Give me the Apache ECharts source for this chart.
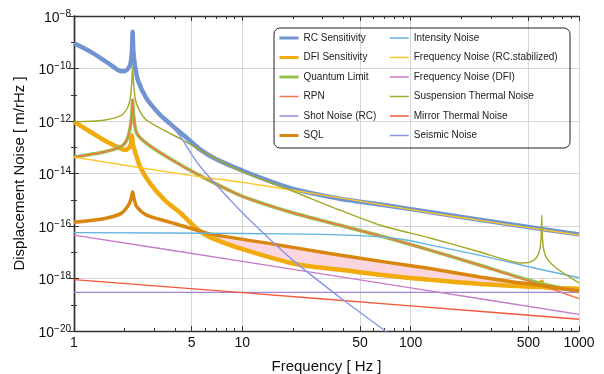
<!DOCTYPE html>
<html>
<head>
<meta charset="utf-8">
<title>Displacement noise budget</title>
<script src="https://cdn.jsdelivr.net/npm/echarts@6/dist/echarts.min.js"></script>
<style>
  html, body { margin: 0; padding: 0; background: #fff; }
  #chart { width: 604px; height: 374px; }
</style>
</head>
<body>
<div id="chart"></div>
<script>
// every curve: [frequency in Hz, displacement noise in m/rHz]
const rcSensitivity = [
  [1, 9.1e-10], [1.25, 4.4e-10], [1.5, 2.1e-10], [1.7, 1.2e-10], [1.9, 7.9e-11],
  [2.0, 7.9e-11], [2.1, 1.0e-10], [2.17, 1.6e-10], [2.21, 5.0e-10], [2.23, 2.5e-9],
  [2.25, 5.0e-10], [2.3, 1.35e-10], [2.4, 3.5e-11], [2.7, 7.1e-12], [3.2, 1.9e-12],
  [3.7, 8.1e-13], [4.7, 2.2e-13], [5.6, 8.3e-14], [7, 3.5e-14], [10, 1.3e-14],
  [14, 5.6e-15], [20, 2.6e-15], [38, 1.1e-15], [66, 6.6e-16], [100, 4.4e-16],
  [200, 2.2e-16], [500, 9.1e-17], [1000, 4.8e-17]
];
const dfiSensitivity = [
  [1, 9.3e-13], [1.25, 3.9e-13], [1.5, 1.9e-13], [1.8, 1.05e-13], [2.0, 7.9e-14],
  [2.12, 9.5e-14], [2.18, 1.4e-13], [2.21, 2.8e-13], [2.24, 1.26e-13], [2.3, 7.1e-14],
  [2.47, 1.8e-14], [2.83, 4.2e-15], [3.47, 9.5e-16], [4.27, 3.2e-16], [5.36, 7.9e-17],
  [6.46, 3.7e-17], [10.6, 1.17e-17], [21, 3.5e-18], [42, 2.0e-18], [66, 1.38e-18],
  [130, 8.9e-19], [258, 6.2e-19], [510, 4.9e-19], [585, 4.7e-19], [597, 6.0e-19],
  [601, 7.6e-19], [605, 6.0e-19], [618, 4.6e-19], [1000, 4.1e-19]
];
const quantumLimit = [
  [1, 4.2e-14], [1.5, 6.6e-14], [1.9, 1.05e-13], [2.06, 1.9e-13], [2.15, 5.0e-13],
  [2.2, 1.6e-12], [2.23, 6.3e-12], [2.26, 1.6e-12], [2.36, 3.4e-13], [2.7, 1.4e-13],
  [3.7, 3.7e-14], [5.6, 8.3e-15], [9.7, 1.48e-15], [19, 3.5e-16], [38, 1.07e-16],
  [70, 3.8e-17], [130, 1.2e-17], [258, 3.2e-18], [510, 8.5e-19], [706, 5.0e-19],
  [1000, 3.2e-19]
];
const rpn = [
  [1, 4.2e-14], [1.5, 6.6e-14], [1.9, 1.05e-13], [2.06, 1.9e-13], [2.15, 5.0e-13],
  [2.2, 1.6e-12], [2.23, 6.3e-12], [2.26, 1.6e-12], [2.36, 3.4e-13], [2.7, 1.4e-13],
  [3.7, 3.7e-14], [5.6, 8.3e-15], [9.7, 1.48e-15], [19, 3.5e-16], [38, 1.07e-16],
  [70, 3.8e-17], [130, 1.2e-17], [258, 3.2e-18], [510, 7.8e-19], [706, 3.8e-19],
  [1000, 1.7e-19]
];
const shotNoiseRC = [[1, 2.95e-19], [1000, 2.95e-19]];
const sqlLimit = [
  [1, 1.4e-16], [1.5, 1.9e-16], [1.9, 2.95e-16], [2.1, 6.0e-16], [2.18, 1.05e-15],
  [2.23, 2.0e-15], [2.28, 1.0e-15], [2.36, 5.4e-16], [2.7, 2.6e-16], [3.7, 1.4e-16],
  [5.4, 6.9e-17], [6.5, 4.9e-17], [16.7, 1.86e-17], [33, 8.9e-18], [70, 4.3e-18],
  [130, 2.4e-18], [258, 1.15e-18], [408, 7.4e-19], [587, 5.5e-19], [1000, 3.3e-19]
];
const intensityNoise = [
  [1, 5.6e-17], [10, 5.2e-17], [30, 4.8e-17], [50, 4.3e-17], [75, 3.6e-17],
  [100, 2.75e-17], [130, 1.9e-17], [258, 7.6e-18], [510, 2.75e-18], [1000, 1.07e-18]
];
const freqNoiseRC = [
  [1, 4.2e-14], [5, 8.3e-15], [10, 4.6e-15], [20, 2.3e-15], [50, 8.9e-16],
  [100, 4.2e-16], [200, 2.1e-16], [500, 8.7e-17], [1000, 4.5e-17]
];
const freqNoiseDFI = [[1, 4.5e-17], [10, 4.5e-18], [100, 4.4e-19], [1000, 4.3e-20]];
const suspensionThermal = [
  [1, 9.3e-13], [1.5, 1.07e-12], [1.9, 1.6e-12], [2.06, 2.8e-12], [2.15, 6.3e-12],
  [2.2, 2.5e-11], [2.23, 1.17e-10], [2.26, 2.5e-11], [2.32, 6.3e-12], [2.45, 2.5e-12],
  [2.7, 1.07e-12], [3.7, 3.4e-13], [4.3, 2.1e-13], [5.6, 7.9e-14], [10, 1.17e-14],
  [19, 2.4e-15], [38, 4.0e-16], [66, 1.07e-16], [130, 3.5e-17], [258, 1.02e-17],
  [364, 5.2e-18], [447, 3.9e-18], [510, 4.2e-18], [560, 6.3e-18], [587, 1.4e-17],
  [597, 5.0e-17], [601, 2.6e-16], [605, 5.0e-17], [615, 1.4e-17], [644, 5.8e-18],
  [738, 2.4e-18], [1000, 6.8e-19]
];
const mirrorThermal = [[1, 9.1e-19], [10, 2.9e-19], [100, 9.1e-20], [1000, 2.8e-20]];
const seismicNoise = [
  [3.7, 7.9e-13], [4.3, 2.5e-13], [4.7, 1.0e-13], [5.6, 1.9e-14], [8.45, 1.0e-15],
  [11.1, 1.66e-16], [20, 4.9e-18], [40, 1.48e-19], [70, 1.05e-20], [80, 5.0e-21]
];

// shaded band between SQL and DFI sensitivity
const fillRange = [5.7, 590];

const xTickLabels = [1, 5, 10, 50, 100, 500, 1000];
const xMinorTicks = [2, 3, 4, 6, 7, 8, 9, 20, 30, 40, 60, 70, 80, 90, 200, 300, 400, 600, 700, 800, 900];

const legendLeft = ['RC Sensitivity', 'DFI Sensitivity', 'Quantum Limit', 'RPN', 'Shot Noise (RC)', 'SQL'];
const legendRight = ['Intensity Noise', 'Frequency Noise (RC.stabilized)', 'Frequency Noise (DFI)',
  'Suspension Thermal Noise', 'Mirror Thermal Noise', 'Seismic Noise'];
const thickNames = ['RC Sensitivity', 'DFI Sensitivity', 'Quantum Limit', 'SQL'];

const font = 'Liberation Sans, Arial, Helvetica, sans-serif';
const toLog = arr => arr.map(([f, v]) => [Math.log10(f), Math.log10(v)]);

function line(name, data, color, width) {
  return {
    name, type: 'line', data: toLog(data),
    symbol: 'none', showSymbol: false, smooth: 0.25,
    lineStyle: { color, width }, itemStyle: { color },
    xAxisIndex: 0, yAxisIndex: 0, z: 3
  };
}

const chart = echarts.init(document.getElementById('chart'));

const inRange = ([f]) => f >= fillRange[0] && f <= fillRange[1];
const fillUpper = toLog(sqlLimit.filter(inRange));
const fillLower = toLog(dfiSensitivity.filter(inRange)).reverse();

const majorX = xTickLabels.map(Math.log10);
const minorX = xMinorTicks.map(Math.log10);
const frame = { show: true, lineStyle: { color: '#333', width: 1.4 } };
const tickStyle = { color: '#333', width: 1 };

// legend swatches are plain lines: the symbol circle is hidden
function legendOf(names, left) {
  return {
    orient: 'vertical', left, top: 33, padding: 0,
    itemWidth: 19, itemHeight: 10, itemGap: 9.5, itemTextGap: 6,
    selectedMode: false,
    itemStyle: { opacity: 0 },
    textStyle: { fontSize: 10, color: '#222', fontFamily: font },
    data: names.map(n => ({ name: n, lineStyle: { width: thickNames.includes(n) ? 3 : 1.5 } }))
  };
}

const option = {
  animation: false,
  backgroundColor: '#fff',
  textStyle: { fontFamily: font },
  grid: [
    { left: 74, right: 25, top: 16, bottom: 43, outerBoundsMode: 'none' },
    { left: 74, right: 25, top: 16, bottom: 43, outerBoundsMode: 'none' }
  ],
  legend: [legendOf(legendLeft, 278), legendOf(legendRight, 389)],
  graphic: [{
    type: 'rect', left: 271.5, top: 25.5, z: 10,
    shape: { width: 296, height: 120, r: 6 },
    style: { fill: 'none', stroke: '#222', lineWidth: 1 }
  }],
  xAxis: [
    {
      gridIndex: 0, type: 'value', min: 0, max: 3, position: 'bottom',
      axisLine: frame,
      axisTick: { inside: true, length: 5, customValues: majorX, lineStyle: tickStyle },
      axisLabel: {
        customValues: majorX, fontSize: 14, color: '#111', margin: 5,
        formatter: v => String(Math.round(Math.pow(10, v)))
      },
      splitLine: { show: true, lineStyle: { color: '#d6d6d6', width: 1 } },
      name: 'Frequency [ Hz ]', nameLocation: 'middle', nameGap: 28,
      nameTextStyle: { fontSize: 15, color: '#111' }
    },
    {
      gridIndex: 0, type: 'value', min: 0, max: 3, position: 'top',
      axisLine: frame,
      axisTick: { inside: true, length: 5, customValues: majorX, lineStyle: tickStyle },
      axisLabel: { show: false }, splitLine: { show: false }
    },
    {
      gridIndex: 1, type: 'value', min: 0, max: 3, position: 'bottom',
      axisLine: { show: false },
      axisTick: { inside: true, length: 3, customValues: minorX, lineStyle: tickStyle },
      axisLabel: { show: false }, splitLine: { show: false }
    },
    {
      gridIndex: 1, type: 'value', min: 0, max: 3, position: 'top',
      axisLine: { show: false },
      axisTick: { inside: true, length: 3, customValues: minorX, lineStyle: tickStyle },
      axisLabel: { show: false }, splitLine: { show: false }
    }
  ],
  yAxis: [
    {
      gridIndex: 0, type: 'value', min: -20, max: -8, interval: 2, position: 'left',
      axisLine: frame,
      axisTick: { inside: true, length: 5, lineStyle: tickStyle },
      minorTick: { show: true, splitNumber: 2, length: 3, lineStyle: tickStyle },
      axisLabel: {
        margin: 3, color: '#111',
        formatter: v => '{b|10}{s|' + String(v).replace('-', '\u2212') + '}',
        rich: {
          b: { fontSize: 14, lineHeight: 14, padding: [4, 0, 0, 0], color: '#111' },
          s: { fontSize: 10, lineHeight: 10, verticalAlign: 'top', color: '#111' }
        }
      },
      splitLine: { show: true, lineStyle: { color: '#d6d6d6', width: 1 } },
      name: 'Displacement Noise [ m/rHz ]', nameLocation: 'middle', nameGap: 43,
      nameTextStyle: { fontSize: 15, color: '#111' }
    },
    {
      gridIndex: 0, type: 'value', min: -20, max: -8, interval: 2, position: 'right',
      axisLine: frame,
      axisTick: { inside: true, length: 5, lineStyle: tickStyle },
      minorTick: { show: true, splitNumber: 2, length: 3, lineStyle: tickStyle },
      axisLabel: { show: false }, splitLine: { show: false }
    },
    { gridIndex: 1, type: 'value', min: -20, max: -8, show: false }
  ],
  series: [
    {
      type: 'custom', xAxisIndex: 0, yAxisIndex: 0, silent: true, clip: true, z: 2,
      data: [[1, -17]],
      renderItem: (params, api) => ({
        type: 'polygon',
        shape: { points: fillUpper.concat(fillLower).map(p => api.coord(p)) },
        style: { fill: '#fbd6de' }
      })
    },
    line('RC Sensitivity', rcSensitivity, '#7094d2', 4.5),
    line('DFI Sensitivity', dfiSensitivity, '#f2ab0c', 4.5),
    line('Quantum Limit', quantumLimit, '#92c24a', 3.5),
    line('RPN', rpn, '#f4774a', 1.4),
    line('Shot Noise (RC)', shotNoiseRC, '#a286d6', 1.4),
    line('SQL', sqlLimit, '#d9860f', 3.5),
    line('Intensity Noise', intensityNoise, '#62b4e0', 1.4),
    line('Frequency Noise (RC.stabilized)', freqNoiseRC, '#fcc825', 1.4),
    line('Frequency Noise (DFI)', freqNoiseDFI, '#c77ac7', 1.4),
    line('Suspension Thermal Noise', suspensionThermal, '#a3a825', 1.4),
    line('Mirror Thermal Noise', mirrorThermal, '#f4573a', 1.4),
    line('Seismic Noise', seismicNoise, '#8597e6', 1.4)
  ]
};

chart.setOption(option);
</script>
</body>
</html>
